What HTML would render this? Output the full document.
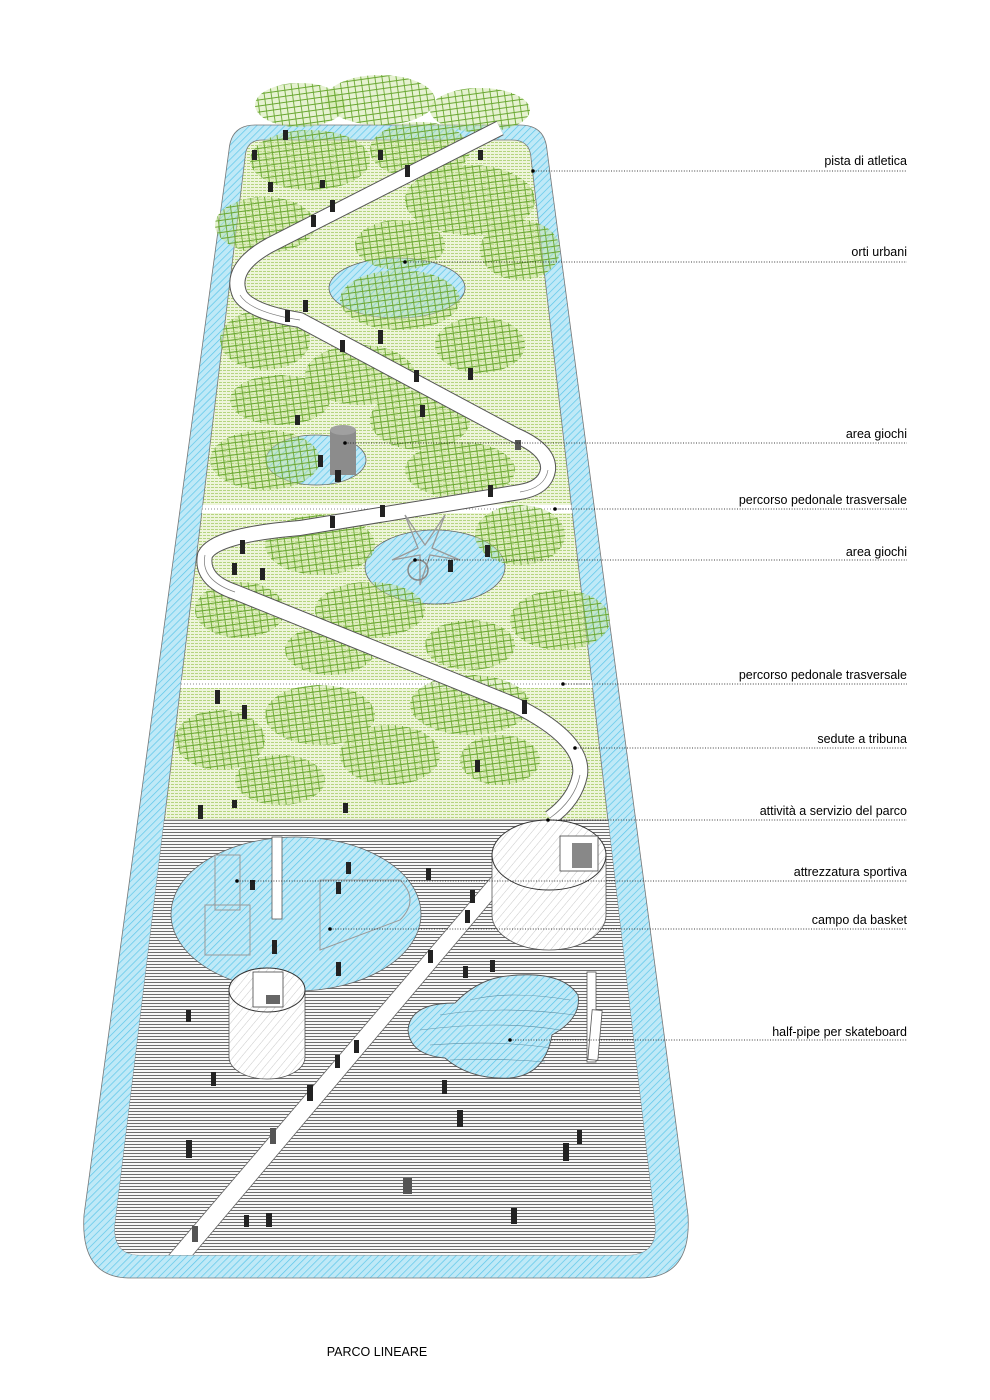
<!DOCTYPE html>
<html><head><meta charset="utf-8"><style>
html,body{margin:0;padding:0;background:#fff;width:990px;height:1400px;overflow:hidden}
svg{display:block}
text{font-family:"Liberation Sans",Arial,sans-serif;font-size:12.5px;fill:#000}
</style></head><body>
<svg width="990" height="1400" viewBox="0 0 990 1400" xmlns="http://www.w3.org/2000/svg">
<defs>
<pattern id="water" width="5" height="5" patternUnits="userSpaceOnUse" patternTransform="rotate(45)">
<rect width="5" height="5" fill="#bfe9f7"/><line x1="0" y1="0" x2="0" y2="5" stroke="#5cc6ea" stroke-width="1.4"/></pattern>
<pattern id="grass" width="4" height="3" patternUnits="userSpaceOnUse">
<rect width="4" height="3" fill="#eef5db"/><line x1="0" y1="1.5" x2="4" y2="1.5" stroke="#b5d47f" stroke-width="1" stroke-dasharray="2 1"/></pattern>
<pattern id="gray" width="4" height="3" patternUnits="userSpaceOnUse">
<rect width="4" height="3" fill="#fff"/><line x1="0" y1="1.5" x2="4" y2="1.5" stroke="#6e6e6e" stroke-width="1.1"/></pattern>
<pattern id="hatch" width="6" height="6" patternUnits="userSpaceOnUse" patternTransform="rotate(40)">
<rect width="6" height="6" fill="#fff"/><line x1="0" y1="0" x2="0" y2="6" stroke="#bbb" stroke-width="0.8"/></pattern>
<pattern id="tree" width="7" height="6" patternUnits="userSpaceOnUse" patternTransform="rotate(-8)">
<rect width="7" height="6" fill="#c9e29a" fill-opacity="0.45"/>
<path d="M0 3H7M3.5 0V6" stroke="#6aa832" stroke-width="0.9"/></pattern>
<clipPath id="inner"><path d="M262 140 H512 Q530 140 531 158 L655 1225 Q657 1255 627 1255 H140 Q113 1255 115 1225 L245 158 Q246 140 262 140Z"/></clipPath>
</defs>

<path d="M255 125 H520 Q545 125 547 150 L688 1215 Q692 1278 640 1278 H130 Q80 1278 84 1215 L229 150 Q231 125 255 125Z" fill="url(#water)" stroke="#777" stroke-width="0.8"/>
<path d="M262 140 H512 Q530 140 531 158 L655 1225 Q657 1255 627 1255 H140 Q113 1255 115 1225 L245 158 Q246 140 262 140Z" fill="url(#grass)" stroke="#777" stroke-width="0.8"/>

<g clip-path="url(#inner)">
<rect x="80" y="820" width="620" height="440" fill="url(#gray)"/>
<line x1="100" y1="820" x2="700" y2="820" stroke="#999" stroke-width="0.8"/>
<rect x="100" y="505" width="600" height="8" fill="#fff"/>
<line x1="100" y1="509" x2="700" y2="509" stroke="#888" stroke-dasharray="1 2"/>
<rect x="100" y="680" width="600" height="8" fill="#fff"/>
<line x1="100" y1="684" x2="700" y2="684" stroke="#888" stroke-dasharray="1 2"/>
<path d="M168 1256 L540 820 L560 820 L192 1256Z" fill="#fff" stroke="#666" stroke-width="0.8"/>
</g>

<ellipse cx="397" cy="288" rx="68" ry="30" fill="url(#water)" stroke="#666" stroke-width="0.8"/>
<ellipse cx="316" cy="460" rx="50" ry="25" fill="url(#water)" stroke="#666" stroke-width="0.8"/>
<ellipse cx="435" cy="567" rx="70" ry="37" fill="url(#water)" stroke="#666" stroke-width="0.8"/>

<g fill="url(#tree)" stroke="none">
<ellipse cx="300" cy="105" rx="45" ry="22"/><ellipse cx="380" cy="100" rx="55" ry="25"/><ellipse cx="480" cy="110" rx="50" ry="22"/>
<ellipse cx="310" cy="160" rx="60" ry="30"/><ellipse cx="420" cy="150" rx="50" ry="28"/>
<ellipse cx="470" cy="200" rx="65" ry="35"/><ellipse cx="265" cy="225" rx="50" ry="28"/><ellipse cx="400" cy="245" rx="45" ry="25"/>
<ellipse cx="520" cy="250" rx="40" ry="30"/><ellipse cx="400" cy="300" rx="60" ry="30"/>
<ellipse cx="480" cy="345" rx="45" ry="28"/><ellipse cx="265" cy="340" rx="45" ry="30"/><ellipse cx="360" cy="375" rx="55" ry="30"/>
<ellipse cx="280" cy="400" rx="50" ry="25"/><ellipse cx="420" cy="420" rx="50" ry="30"/><ellipse cx="265" cy="460" rx="55" ry="30"/>
<ellipse cx="460" cy="470" rx="55" ry="28"/><ellipse cx="320" cy="545" rx="55" ry="30"/><ellipse cx="520" cy="535" rx="45" ry="30"/>
<ellipse cx="240" cy="610" rx="45" ry="28"/><ellipse cx="370" cy="610" rx="55" ry="28"/><ellipse cx="560" cy="620" rx="50" ry="30"/>
<ellipse cx="470" cy="645" rx="45" ry="25"/><ellipse cx="330" cy="650" rx="45" ry="25"/>
<ellipse cx="470" cy="705" rx="60" ry="30"/><ellipse cx="320" cy="715" rx="55" ry="30"/><ellipse cx="220" cy="740" rx="45" ry="30"/>
<ellipse cx="390" cy="755" rx="50" ry="30"/><ellipse cx="500" cy="760" rx="40" ry="25"/><ellipse cx="280" cy="780" rx="45" ry="25"/>
</g>

<path d="M500 128 L270 245 Q228 268 240 295 Q250 312 300 320 L515 435 Q550 450 548 470 Q545 488 520 492 L300 528 Q215 535 205 555 Q200 580 235 592 L515 705 Q585 740 580 775 Q575 800 550 818" fill="none" stroke="#555" stroke-width="16" stroke-linejoin="round"/>
<path d="M500 128 L270 245 Q228 268 240 295 Q250 312 300 320 L515 435 Q550 450 548 470 Q545 488 520 492 L300 528 Q215 535 205 555 Q200 580 235 592 L515 705 Q585 740 580 775 Q575 800 550 818" fill="none" stroke="#fff" stroke-width="14" stroke-linejoin="round"/>
<path d="M240 295 Q250 312 300 320 M548 470 Q545 488 520 492 M205 555 Q200 580 235 592 M580 775 Q575 800 550 818" fill="none" stroke="#777" stroke-width="0.7"/>

<rect x="330" y="430" width="26" height="45" fill="#8c8c8c"/>
<ellipse cx="343" cy="430" rx="13" ry="5" fill="#a0a0a0"/>
<path d="M405 515 L425 545 L445 515 L432 548 L460 560 L430 555 L420 585 L420 555 L392 560 L418 548Z" fill="none" stroke="#999" stroke-width="1.3"/>
<circle cx="418" cy="570" r="10" fill="none" stroke="#888" stroke-width="1.5"/>

<ellipse cx="296" cy="914" rx="125" ry="77" fill="url(#water)" stroke="#666" stroke-width="0.8"/>
<path d="M320 880 H400 Q420 900 400 920 L320 950Z" fill="none" stroke="#999" stroke-width="1"/>
<rect x="215" y="855" width="25" height="55" fill="none" stroke="#999"/>
<rect x="205" y="905" width="45" height="50" fill="none" stroke="#999"/>
<rect x="272" y="837" width="10" height="82" fill="#fff" stroke="#555" stroke-width="0.8"/>

<path d="M492 855 V915 A57 35 0 0 0 606 915 V855" fill="url(#hatch)" stroke="#555" stroke-width="0.8"/>
<ellipse cx="549" cy="855" rx="57" ry="35" fill="url(#hatch)" stroke="#333" stroke-width="1"/>
<rect x="560" y="836" width="38" height="35" fill="#fff" stroke="#444" stroke-width="0.8"/>
<rect x="572" y="843" width="20" height="25" fill="#888"/>
<path d="M229 990 V1057 A38 22 0 0 0 305 1057 V990" fill="url(#hatch)" stroke="#555" stroke-width="0.8"/>
<ellipse cx="267" cy="990" rx="38" ry="22" fill="url(#hatch)" stroke="#333" stroke-width="1"/>
<rect x="253" y="972" width="30" height="35" fill="#fff" stroke="#444" stroke-width="0.8"/>
<rect x="266" y="995" width="14" height="9" fill="#666"/>

<path d="M500 977 Q560 968 578 995 Q582 1018 552 1035 Q545 1075 510 1078 Q470 1080 445 1058 Q410 1055 408 1030 Q410 1003 455 1003 Q475 982 500 977Z" fill="url(#water)" stroke="#555" stroke-width="0.9"/>
<path d="M470 1000 Q510 990 570 1000 M440 1015 Q500 1005 575 1015 M420 1030 Q500 1020 560 1030 M430 1045 Q500 1040 550 1048 M450 1060 Q500 1058 545 1062" fill="none" stroke="#5b8fa5" stroke-width="0.6"/>
<rect x="587" y="972" width="9" height="90" fill="#fff" stroke="#555" stroke-width="0.8"/>
<rect x="590" y="1010" width="10" height="50" fill="#fff" stroke="#555" stroke-width="0.8" transform="rotate(5 595 1035)"/>

<g fill="#222">
<rect x="186" y="1140" width="6" height="18"/><rect x="211" y="1072" width="5" height="14"/><rect x="186" y="1010" width="5" height="12"/>
<rect x="457" y="1110" width="6" height="17"/><rect x="511" y="1208" width="6" height="16"/><rect x="244" y="1215" width="5" height="12"/>
<rect x="266" y="1213" width="6" height="14"/><rect x="563" y="1143" width="6" height="18"/><rect x="577" y="1130" width="5" height="14"/>
<rect x="192" y="1226" width="6" height="16" fill="#555"/><rect x="270" y="1128" width="6" height="16" fill="#555"/><rect x="403" y="1178" width="9" height="16" fill="#555"/>
<rect x="307" y="1085" width="6" height="16"/><rect x="335" y="1055" width="5" height="13"/><rect x="354" y="1040" width="5" height="13"/>
<rect x="442" y="1080" width="5" height="14"/><rect x="490" y="960" width="5" height="12"/><rect x="463" y="966" width="5" height="12"/>
<rect x="428" y="950" width="5" height="13"/><rect x="465" y="910" width="5" height="13"/><rect x="470" y="890" width="5" height="13"/>
<rect x="426" y="868" width="5" height="12"/><rect x="346" y="862" width="5" height="12"/><rect x="336" y="882" width="5" height="12"/>
<rect x="272" y="940" width="5" height="14"/><rect x="336" y="962" width="5" height="14"/><rect x="250" y="880" width="5" height="10"/>
<rect x="198" y="805" width="5" height="14"/><rect x="242" y="705" width="5" height="14"/><rect x="215" y="690" width="5" height="14"/>
<rect x="240" y="540" width="5" height="14"/><rect x="260" y="568" width="5" height="12"/><rect x="232" y="563" width="5" height="12"/>
<rect x="380" y="505" width="5" height="12"/><rect x="303" y="300" width="5" height="12"/><rect x="285" y="310" width="5" height="12"/>
<rect x="340" y="340" width="5" height="12"/><rect x="378" y="330" width="5" height="14"/><rect x="468" y="368" width="5" height="12"/>
<rect x="414" y="370" width="5" height="12"/><rect x="420" y="405" width="5" height="12"/><rect x="318" y="455" width="5" height="12"/>
<rect x="335" y="470" width="6" height="12"/><rect x="488" y="485" width="5" height="12"/><rect x="515" y="440" width="6" height="10" fill="#555"/>
<rect x="252" y="150" width="5" height="10"/><rect x="283" y="130" width="5" height="10"/><rect x="378" y="150" width="5" height="10"/>
<rect x="478" y="150" width="5" height="10"/><rect x="330" y="200" width="5" height="12"/><rect x="311" y="215" width="5" height="12"/>
<rect x="405" y="165" width="5" height="12"/><rect x="268" y="182" width="5" height="10"/><rect x="320" y="180" width="5" height="8"/>
<rect x="475" y="760" width="5" height="12"/><rect x="522" y="700" width="5" height="14"/><rect x="232" y="800" width="5" height="8"/>
<rect x="343" y="803" width="5" height="10"/><rect x="295" y="415" width="5" height="10"/><rect x="448" y="560" width="5" height="12"/>
<rect x="485" y="545" width="5" height="12"/><rect x="330" y="516" width="5" height="12"/>
</g>

<g stroke="#000" stroke-width="0.8" stroke-dasharray="1 1.6" fill="none">
<line x1="533" y1="171" x2="907" y2="171"/><line x1="405" y1="262" x2="907" y2="262"/>
<line x1="345" y1="443" x2="907" y2="443"/><line x1="555" y1="509" x2="907" y2="509"/>
<line x1="415" y1="560" x2="907" y2="560"/><line x1="563" y1="684" x2="907" y2="684"/>
<line x1="575" y1="748" x2="907" y2="748"/><line x1="548" y1="820" x2="907" y2="820"/>
<line x1="237" y1="881" x2="907" y2="881"/><line x1="330" y1="929" x2="907" y2="929"/>
<line x1="510" y1="1040" x2="907" y2="1040"/>
</g>
<g fill="#000">
<circle cx="533" cy="171" r="1.8"/><circle cx="405" cy="262" r="1.8"/><circle cx="345" cy="443" r="1.8"/>
<circle cx="555" cy="509" r="1.8"/><circle cx="415" cy="560" r="1.8"/><circle cx="563" cy="684" r="1.8"/>
<circle cx="575" cy="748" r="1.8"/><circle cx="548" cy="820" r="1.8"/><circle cx="237" cy="881" r="1.8"/>
<circle cx="330" cy="929" r="1.8"/><circle cx="510" cy="1040" r="1.8"/>
</g>
<g text-anchor="end">
<text x="907" y="165">pista di atletica</text>
<text x="907" y="256">orti urbani</text>
<text x="907" y="438">area giochi</text>
<text x="907" y="504">percorso pedonale trasversale</text>
<text x="907" y="556">area giochi</text>
<text x="907" y="679">percorso pedonale trasversale</text>
<text x="907" y="743">sedute a tribuna</text>
<text x="907" y="815">attività a servizio del parco</text>
<text x="907" y="876">attrezzatura sportiva</text>
<text x="907" y="924">campo da basket</text>
<text x="907" y="1036">half-pipe per skateboard</text>
</g>
<text x="377" y="1356" text-anchor="middle">PARCO LINEARE</text>
</svg>
</body></html>
